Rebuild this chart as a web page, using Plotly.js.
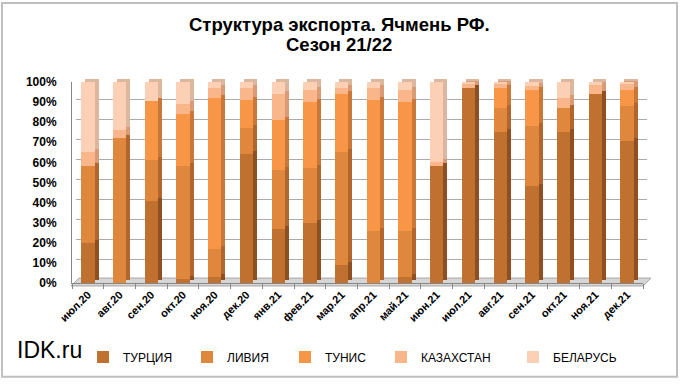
<!DOCTYPE html>
<html>
<head>
<meta charset="utf-8">
<script src="https://cdn.plot.ly/plotly-3.0.1.min.js"></script>
<style>html,body{margin:0;padding:0;background:#fff;}#chart{width:680px;height:384px;}</style>
</head>
<body>
<div id="chart"></div>
<script>
// ---- data (percent shares of barley exports) ----
const months = ['июл.20','авг.20','сен.20','окт.20','ноя.20','дек.20','янв.21','фев.21','мар.21','апр.21','май.21','июн.21','июл.21','авг.21','сен.21','окт.21','ноя.21','дек.21'];
const seriesNames = ['ТУРЦИЯ','ЛИВИЯ','ТУНИС','КАЗАХСТАН','БЕЛАРУСЬ'];
const turkey     = [20, 0, 41, 2, 3, 64, 27, 30, 9, 0, 3, 58, 97, 75, 48, 75, 94, 70.5];
const libya      = [38, 72, 20, 56, 14, 13, 29, 27, 56, 26, 23, 0, 0, 12, 30, 12, 0, 17.5];
const tunisia    = [0, 0, 29.5, 26, 75, 14, 25, 33, 29, 65, 64, 0, 0, 10, 18, 0, 0, 8];
const kazakhstan = [7, 4, 0, 5, 5, 6, 13, 6, 3, 6, 6, 2, 2, 2, 2, 5, 4.5, 3];
const belarus    = [35, 24, 9.5, 11, 3, 3, 6, 4, 3, 3, 4, 40, 1, 1, 2, 8, 1.5, 1];
const yTicks = [0,10,20,30,40,50,60,70,80,90,100];
const titleLines = ['Структура экспорта. Ячмень РФ.', 'Сезон 21/22'];

// ---- styling ----
const FONT = 'Liberation Sans, Arial, sans-serif';
const frontColors = ['#C0702F','#DF873D','#F79646','#F9B68A','#FCD0B4'];
const sideColors  = ['#8E5020','#B0662C','#C97838','#D89B76','#DDB69E'];
const values = [turkey, libya, tunisia, kazakhstan, belarus];

const W = 680, H = 384, ML = 72, MR = 29, MT = 77, MB = 98;
const PW = W - ML - MR, PH = H - MT - MB;
const px = x => (x - ML) / PW;          // pixel -> paper x
const py = y => (H - MB - y) / PH;      // pixel -> paper y
const DX = 4, DY = 3;                   // 3D depth offset

const traces = [];
values.forEach((v, i) => {
  traces.push({type:'bar', x: months, y: v, xaxis:'x', yaxis:'y',
    marker:{color: sideColors[i]}, showlegend:false, hoverinfo:'skip', name: seriesNames[i]});
});
const legendTextX = [123, 227, 325, 421, 553];
values.forEach((v, i) => {
  traces.push({type:'bar', x: months, y: v, xaxis:'x2', yaxis:'y2',
    marker:{color: frontColors[i]}, name: seriesNames[i],
    legend: i === 0 ? 'legend' : 'legend' + (i+1), hoverinfo:'skip'});
});

const layout = {
  width: W, height: H,
  margin: {l: ML, r: MR, t: MT, b: MB},
  paper_bgcolor: '#fff', plot_bgcolor: 'rgba(0,0,0,0)',
  font: {family: FONT, color: '#000'},
  barmode: 'stack', barnorm: 'percent', bargap: 0.58,
  xaxis: {domain: [DX/PW, (PW - 8 + DX)/PW], type:'category', range:[-0.5, months.length-0.5],
          showticklabels:false, showgrid:false, showline:false, ticks:'', zeroline:false, fixedrange:true},
  yaxis: {domain: [DY/PH, (PH - 5 + DY)/PH], anchor:'x', range:[0,100], tickvals: yTicks,
          showgrid:true, gridcolor:'#ABABAB', gridwidth:1, showticklabels:false, zeroline:false, showline:false, fixedrange:true},
  xaxis2: {domain: [0, (PW - 8)/PW], anchor:'y2', type:'category', range:[-0.5, months.length-0.5],
           tickangle:-45, tickfont:{family: FONT, size:11, weight:'bold', color:'#000'},
           ticks:'outside', tickson:'boundaries', ticklen:5, tickcolor:'#868686',
           showline:true, linecolor:'#868686', showgrid:false, zeroline:false, fixedrange:true},
  yaxis2: {domain: [0, (PH - 5)/PH], anchor:'x2', range:[0,100], tickvals: yTicks, ticktext: yTicks.map(t => t + '%'),
           tickfont:{family: FONT, size:12, weight:'bold', color:'#000'},
           ticks:'outside', ticklen:12, tickcolor:'rgba(0,0,0,0)',
           showline:true, linecolor:'#868686', showgrid:false, zeroline:false, fixedrange:true},
  shapes: [
    {type:'rect', xref:'paper', yref:'paper', x0:px(2), x1:px(677), y0:py(381), y1:py(2),
     line:{color:'#BFBFBF', width:2}, fillcolor:'rgba(0,0,0,0)', layer:'below'},
    {type:'path', xref:'paper', yref:'paper', layer:'below',
     path: `M ${px(ML-1)},${py(H-MB+3)} L ${px(ML+PW-8)},${py(H-MB+3)} L ${px(ML+PW-8+DX+4)},${py(H-MB-DY-2)} L ${px(ML+DX+3)},${py(H-MB-DY-2)} Z`,
     fillcolor:'#D6D6D6', line:{color:'#A6A6A6', width:1}}
  ],
  annotations: [
    {text: titleLines[0], xref:'paper', yref:'paper', x: px(339), y: py(24), xanchor:'center', yanchor:'middle',
     showarrow:false, font:{family: FONT, size:18.5, weight:'bold', color:'#000'}},
    {text: titleLines[1], xref:'paper', yref:'paper', x: px(339), y: py(44), xanchor:'center', yanchor:'middle',
     showarrow:false, font:{family: FONT, size:18.5, weight:'bold', color:'#000'}},
    {text:'IDK.ru', xref:'paper', yref:'paper', x: px(15), y: py(354), xanchor:'left', yanchor:'middle',
     showarrow:false, font:{family: FONT, size:23, color:'#000'}}
  ]
};
legendTextX.forEach((tx, i) => {
  const key = i === 0 ? 'legend' : 'legend' + (i+1);
  layout[key] = {x: px(tx - 40), y: py(361), xanchor:'left', yanchor:'middle', orientation:'h',
                 bgcolor:'rgba(0,0,0,0)', borderwidth:0, font:{family: FONT, size:12, color:'#000'}};
});

Plotly.newPlot('chart', traces, layout, {staticPlot:true, displayModeBar:false});
</script>
</body>
</html>
